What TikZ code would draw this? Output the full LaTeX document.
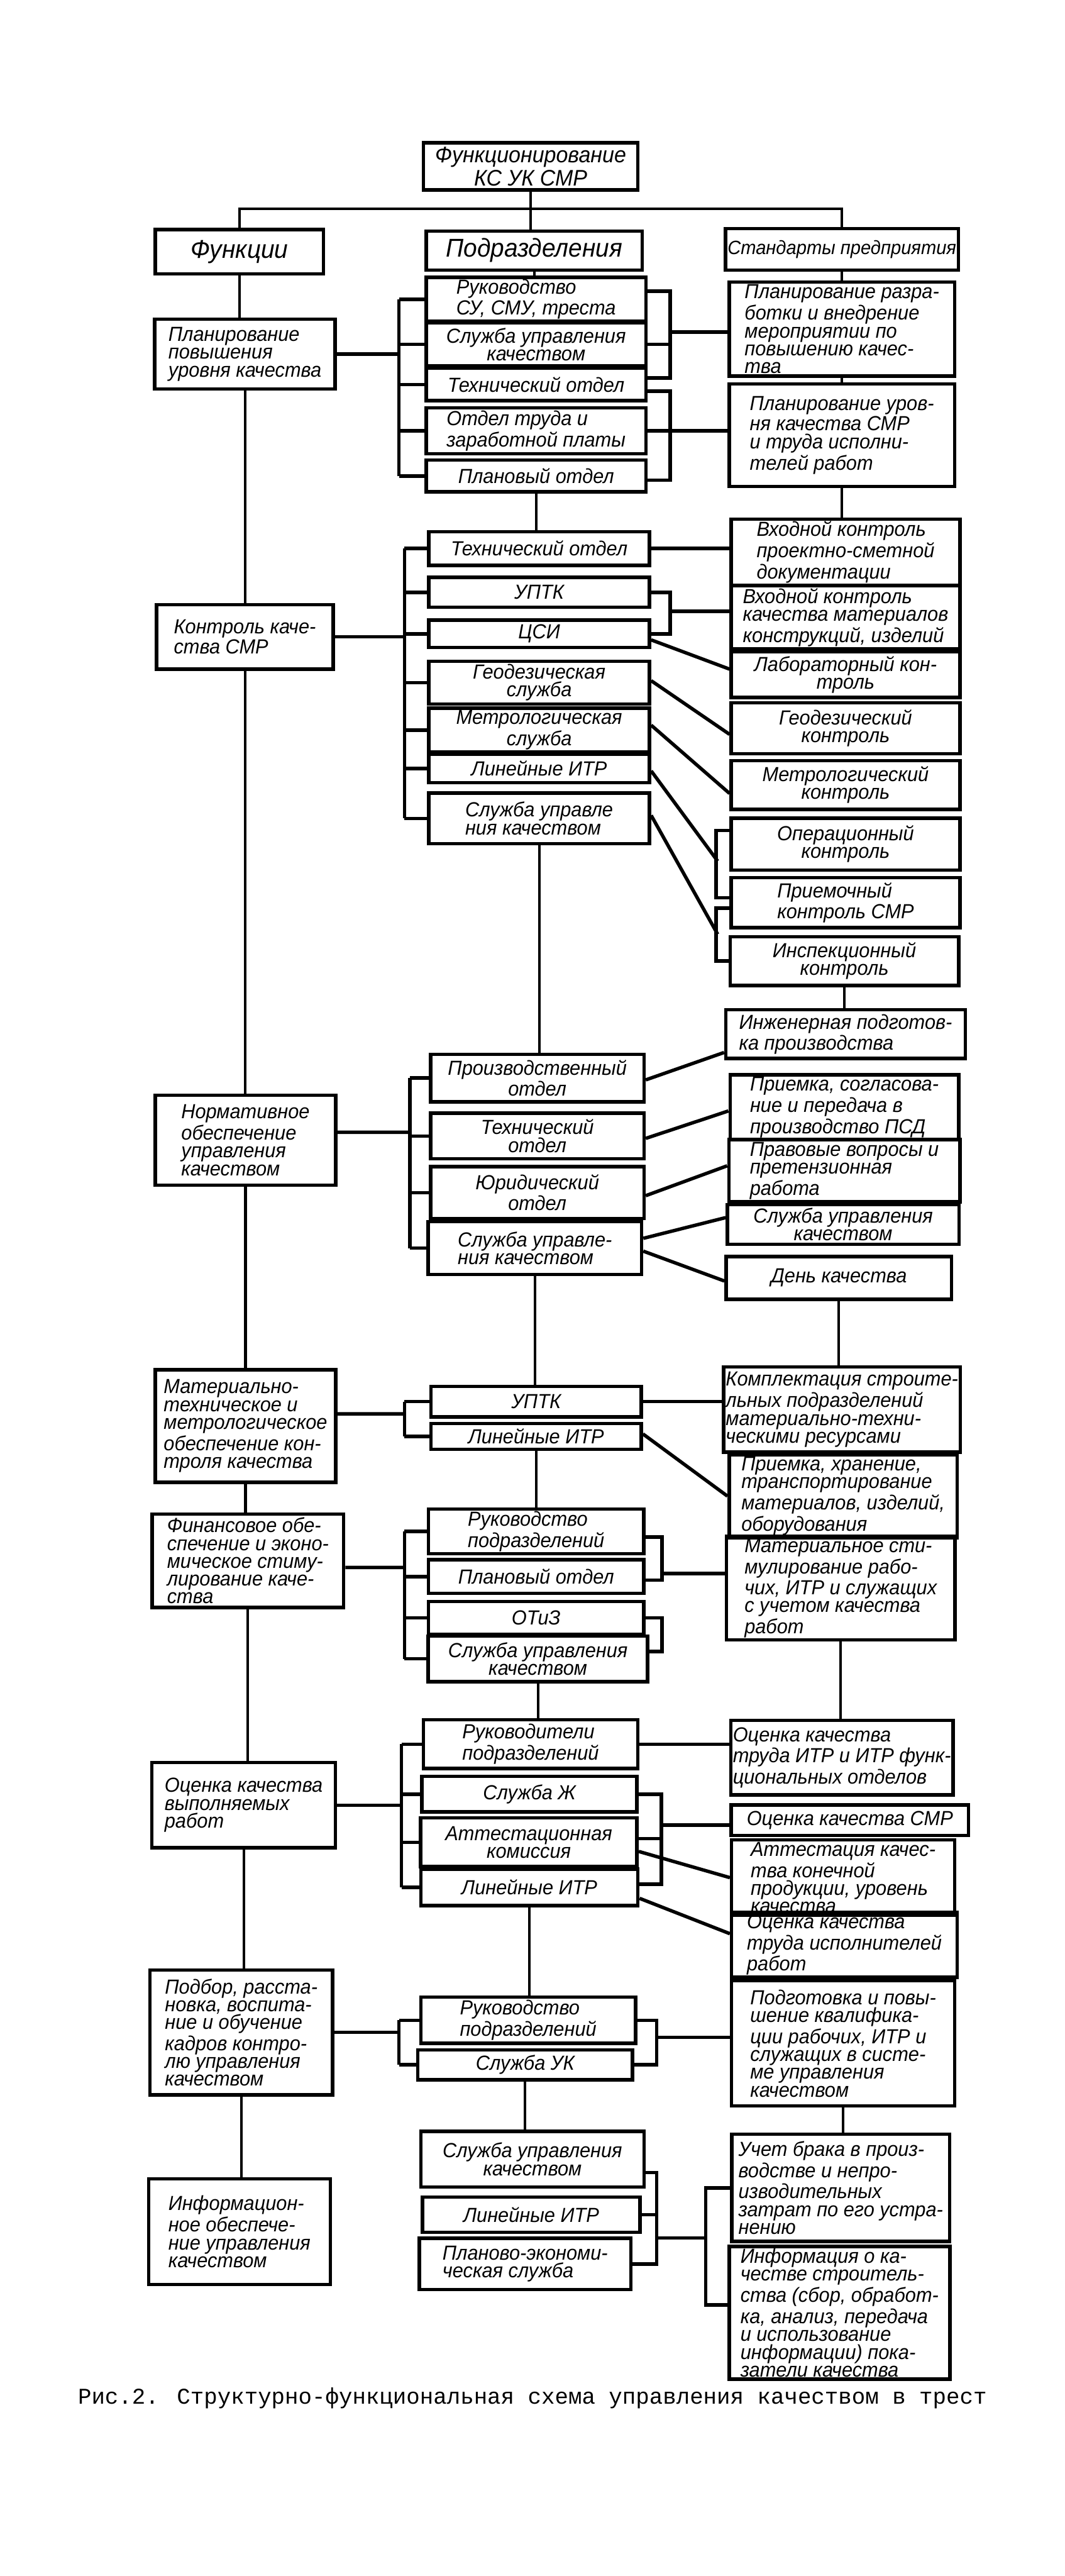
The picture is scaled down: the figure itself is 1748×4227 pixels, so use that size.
\documentclass[tikz,border=0pt]{standalone}
\usepackage{fontspec}
\setmainfont{Liberation Sans}[FakeStretch=0.95]
\newfontfamily\capfont{Liberation Mono}
\usepackage{tikz}

\tikzset{
  box/.style={draw, line width=1.6pt, inner sep=1pt, align=left,
    font=\fontsize{9.5}{8.3}\selectfont\itshape},
  cbox/.style={box, align=center},
  head/.style={box, align=center, font=\fontsize{12}{12}\selectfont\itshape},
  sz/.style 2 args={minimum width=#1cm, minimum height=#2cm},
  link/.style={line width=1.2pt},
  brk/.style={line width=1.6pt},
}

\begin{document}
\begin{tikzpicture}[x=0.01cm, y=-0.01cm]
  \fill[white] (0,0) rectangle (1748,4227);
  % Header
  \node[head, sz={3.52}{0.77}, font=\fontsize{10.5}{11}\selectfont\itshape] (top) at (871,273) {Функционирование\\КС УК СМР};
  \node[head, sz={2.76}{0.73}] (hF) at (393,413) {Функции};
  \node[head, sz={3.54}{0.64}] (hP) at (877,411) {Подразделения};
  \node[head, sz={3.70}{0.68}, font=\fontsize{9}{9}\selectfont\itshape] (hS) at (1382,409) {Стандарты предприятия};
  \coordinate (hub) at (871,343);
  \draw[link] (top.south) -- (top.south |- hP.north);
  \draw[link] (hF.north) |- (hub) -| (hS.north);

  % Planning
  \node[box, sz={2.96}{1.14}] (L1) at (402,581) {Планирование\\повышения\\уровня качества};
  \node[box, sz={3.60}{0.72}] (M1a) at (880,491) {Руководство\\СУ, СМУ, треста};
  \node[cbox, sz={3.60}{0.70}] (M1b) at (880,565) {Служба управления\\качеством};
  \node[box, sz={3.60}{0.53}] (M1c) at (880,631) {Технический отдел};
  \node[box, sz={3.60}{0.75}] (M1d) at (880,707) {Отдел труда и\\заработной платы};
  \node[cbox, sz={3.60}{0.52}] (M1e) at (880,781) {Плановый отдел};
  \node[box, sz={3.70}{1.54}] (R1a) at (1382,540) {Планирование разра-\\ботки и внедрение\\мероприятии по\\повышению качес-\\тва};
  \node[box, sz={3.70}{1.68}] (R1b) at (1382,714) {Планирование уров-\\ня качества СМР\\и труда исполни-\\телей работ};
  \coordinate (k1) at (655,580);
  \draw[brk] (M1a.west -| k1) -- (M1e.west -| k1);
  \foreach \m in {M1a,M1b,M1c,M1d,M1e}
    \draw[brk] (\m.west) -- (\m.west -| k1);
  \draw[brk] (L1.east) -- (L1.east -| k1);
  \coordinate (r1) at (1097,545);
  \draw[brk] ([yshift=0.13cm]M1a.east) -- ++(0.37cm,0) |- ([yshift=0.11cm]M1c.east);
  \draw[brk] (M1b.east) -- (M1b.east -| r1);
  \draw[brk] (r1) -- (r1 -| R1a.west);
  \draw[brk] ([yshift=-0.11cm]M1c.east) -- ++(0.37cm,0) |- ([yshift=-0.07cm]M1e.east);
  \draw[brk] (M1d.east) -- (M1d.east -| R1b.west);

  % Control
  \node[box, sz={2.90}{1.06}] (L2) at (402,1045) {Контроль каче-\\ства СМР};
  \node[box, sz={3.62}{0.55}] (M2a) at (885,900) {Технический отдел};
  \node[cbox, sz={3.62}{0.49}] (M2b) at (885,972) {УПТК};
  \node[cbox, sz={3.62}{0.45}] (M2c) at (885,1040) {ЦСИ};
  \node[cbox, sz={3.62}{0.70}] (M2d) at (885,1120) {Геодезическая\\служба};
  \node[cbox, sz={3.62}{0.67}] (M2e) at (885,1198) {Метрологическая\\служба};
  \node[box, sz={3.62}{0.47}] (M2f) at (885,1261) {Линейные ИТР};
  \node[box, sz={3.62}{0.83}] (M2g) at (885,1343) {Служба управле\\ния качеством};
  \node[box, sz={3.75}{1.03}] (R2a) at (1388,906) {Входной контроль\\проектно-сметной\\документации};
  \node[box, sz={3.75}{1.00}] (R2b) at (1388,1013) {Входной контроль\\качества материалов\\конструкций, изделий};
  \node[cbox, sz={3.75}{0.75}] (R2c) at (1388,1107) {Лабораторный кон-\\троль};
  \node[cbox, sz={3.75}{0.84}] (R2d) at (1388,1195) {Геодезический\\контроль};
  \node[cbox, sz={3.75}{0.80}] (R2e) at (1388,1288) {Метрологический\\контроль};
  \node[cbox, sz={3.75}{0.85}] (R2f) at (1388,1385) {Операционный\\контроль};
  \node[box, sz={3.75}{0.82}] (R2g) at (1388,1481) {Приемочный\\контроль СМР};
  \node[cbox, sz={3.75}{0.80}] (R2h) at (1386,1577) {Инспекционный\\контроль};
  \coordinate (k2) at (664,1042);
  \draw[brk] (M2a.west -| k2) -- (M2g.west -| k2);
  \foreach \m in {M2a,M2b,M2c,M2d,M2e,M2f,M2g}
    \draw[brk] (\m.west) -- (\m.west -| k2);
  \draw[brk] (L2.east) -- (L2.east -| k2);
  \draw[brk] (M2a.east) -- (M2a.east -| R2a.west);
  \coordinate (r3) at (1097,1003);
  \draw[brk] (M2b.east) -- ++(0.31cm,0) |- (M2c.east);
  \draw[brk] (r3) -- (r3 -| R2b.west);
  \draw[brk] ([yshift=-0.10cm]M2c.east) -- ([yshift=0.09cm]R2c.west);
  \draw[brk] ([yshift=0.03cm]M2d.east) -- ([yshift=-0.10cm]R2d.west);
  \draw[brk] ([yshift=0.08cm]M2e.east) -- ([yshift=-0.14cm]R2e.west);
  \coordinate (jA) at (1178,1413);
  \coordinate (jB) at (1178,1533);
  \draw[brk] ([yshift=0.22cm]R2f.west) -- ++(-0.22cm,0) |- ([yshift=0.08cm]R2g.west);
  \draw[brk] ([yshift=-0.09cm]R2g.west) -- ++(-0.22cm,0) |- (R2h.west);
  \draw[brk] ([yshift=-0.04cm]M2f.east) -- (jA);
  \draw[brk] ([yshift=0.05cm]M2g.east) -- (jB);

  % Standards
  \node[box, sz={2.96}{1.47}] (L3) at (403,1871) {Нормативное\\обеспечение\\управления\\качеством};
  \node[cbox, sz={3.50}{0.78}] (M3a) at (882,1769) {Производственный\\отдел};
  \node[cbox, sz={3.50}{0.75}] (M3b) at (882,1864) {Технический\\отдел};
  \node[cbox, sz={3.50}{0.85}] (M3c) at (882,1957) {Юридический\\отдел};
  \node[box, sz={3.50}{0.87}] (M3d) at (878,2048) {Служба управле-\\ния качеством};
  \node[box, sz={3.93}{0.80}] (R3a) at (1388,1697) {Инженерная подготов-\\ка производства};
  \node[box, sz={3.75}{1.01}] (R3b) at (1386,1817) {Приемка, согласова-\\ние и передача в\\производство ПСД};
  \node[box, sz={3.79}{1.02}] (R3c) at (1386,1921) {Правовые вопросы и\\претензионная\\работа};
  \node[cbox, sz={3.80}{0.65}] (R3d) at (1384,2009) {Служба управления\\качеством};
  \node[box, sz={3.70}{0.70}] (R3e) at (1377,2097) {День качества};
  \coordinate (k3) at (673,1858);
  \draw[brk] (M3a.west -| k3) -- (M3d.west -| k3);
  \foreach \m in {M3a,M3b,M3c,M3d}
    \draw[brk] (\m.west) -- (\m.west -| k3);
  \draw[brk] ([yshift=0.13cm]L3.east) -- (k3);
  \draw[brk] ([yshift=-0.03cm]M3a.east) -- ([yshift=-0.30cm]R3a.west);
  \draw[brk] ([yshift=-0.04cm]M3b.east) -- ([yshift=-0.06cm]R3b.west);
  \draw[brk] ([yshift=-0.05cm]M3c.east) -- ([yshift=0.08cm]R3c.west);
  \draw[brk] ([yshift=0.16cm]M3d.east) -- ([yshift=0.11cm]R3d.west);
  \draw[brk] ([yshift=-0.05cm]M3d.east) -- ([yshift=-0.05cm]R3e.west);

  % Supply
  \node[box, sz={2.96}{1.85}] (L4) at (403,2340) {Материально-\\техническое и\\метрологическое\\обеспечение кон-\\троля качества};
  \node[cbox, sz={3.45}{0.50}] (M4a) at (880,2300) {УПТК};
  \node[box, sz={3.45}{0.42}] (M4b) at (880,2357) {Линейные ИТР};
  \node[box, sz={3.79}{1.40}] (R4a) at (1382,2313) {Комплектация строите-\\льных подразделений\\материально-техни-\\ческими ресурсами};
  \node[box, sz={3.74}{1.34}] (R4b) at (1384,2455) {Приемка, хранение,\\транспортирование\\материалов, изделий,\\оборудования};
  \coordinate (k4) at (664,2320);
  \draw[brk] (M4a.west -| k4) -- (M4b.west -| k4);
  \foreach \m in {M4a,M4b}
    \draw[brk] (\m.west) -- (\m.west -| k4);
  \draw[brk] ([yshift=0.2cm]L4.east) -- (k4);
  \draw[brk] (M4a.east) -- (M4a.east -| R4a.west);
  \draw[brk] ([yshift=0.04cm]M4b.east) -- (R4b.west);

  % Incentives
  \node[box, sz={3.14}{1.53}] (L5) at (407,2561) {Финансовое обе-\\спечение и эконо-\\мическое стиму-\\лирование каче-\\ства};
  \node[box, sz={3.53}{0.70}] (M5a) at (880,2513) {Руководство\\подразделений};
  \node[cbox, sz={3.53}{0.55}] (M5b) at (880,2587) {Плановый отдел};
  \node[cbox, sz={3.53}{0.54}] (M5c) at (880,2655) {ОТиЗ};
  \node[cbox, sz={3.60}{0.75}] (M5d) at (883,2722) {Служба управления\\качеством};
  \node[box, sz={3.75}{1.58}] (R5a) at (1380,2606) {Материальное сти-\\мулирование рабо-\\чих, ИТР и служащих\\с учетом качества\\работ};
  \coordinate (k5) at (664,2572);
  \draw[brk] (M5a.west -| k5) -- (M5d.west -| k5);
  \foreach \m in {M5a,M5b,M5c,M5d}
    \draw[brk] (\m.west) -- (\m.west -| k5);
  \draw[brk] ([yshift=-0.11cm]L5.east) -- (k5);
  \coordinate (r5) at (1084,2582);
  \draw[brk] ([yshift=-0.09cm]M5a.east) -- ++(0.27cm,0) |- ([yshift=-0.06cm]M5b.east);
  \draw[brk] (r5) -- (r5 -| R5a.west);
  \draw[brk] (M5c.east) -- ++(0.27cm,0) |- ([yshift=0.12cm]M5d.east);

  % Assessment
  \node[box, sz={3.01}{1.40}] (L6) at (400,2962) {Оценка качества\\выполняемых\\работ};
  \node[box, sz={3.52}{0.80}] (M6a) at (871,2862) {Руководители\\подразделений};
  \node[box, sz={3.53}{0.58}] (M6b) at (869,2944) {Служба Ж};
  \node[cbox, sz={3.55}{0.80}] (M6c) at (868,3023) {Аттестационная\\комиссия};
  \node[box, sz={3.56}{0.60}] (M6d) at (869,3097) {Линейные ИТР};
  \node[box, sz={3.61}{1.22}] (R6a) at (1382,2884) {Оценка качества\\труда ИТР и ИТР функ-\\циональных отделов};
  \node[box, sz={3.89}{0.50}] (R6b) at (1395,2987) {Оценка качества СМР};
  \node[box, sz={3.66}{1.18}] (R6c) at (1384,3081) {Аттестация качес-\\тва конечной\\продукции, уровень\\качества};
  \node[box, sz={3.70}{0.93}] (R6d) at (1386,3191) {Оценка качества\\труда исполнителей\\работ};
  \coordinate (k6) at (659,2967);
  \draw[brk] (M6a.west -| k6) -- (M6d.west -| k6);
  \foreach \m in {M6a,M6b,M6c,M6d}
    \draw[brk] (\m.west) -- (\m.west -| k6);
  \draw[brk] (L6.east) -- (L6.east -| k6);
  \draw[brk] (M6a.east) -- (M6a.east -| R6a.west);
  \coordinate (r6) at (1084,2995);
  \draw[brk] (M6b.east) -- ++(0.37cm,0) |- ([yshift=0.05cm]M6d.east);
  \draw[brk] ([yshift=0.06cm]M6c.east) -- ++(0.37cm,0);
  \draw[brk] (r6) -- (r6 -| R6b.west);
  \draw[brk] ([yshift=-0.15cm]M6c.east) -- (R6c.west);
  \draw[brk] ([yshift=-0.18cm]M6d.east) -- ([yshift=0.18cm]R6d.west);

  % Training
  \node[box, sz={3.00}{2.05}] (L7) at (396,3335) {Подбор, расста-\\новка, воспита-\\ние и обучение\\кадров контро-\\лю управления\\качеством};
  \node[box, sz={3.52}{0.76}] (M7a) at (867,3315) {Руководство\\подразделений};
  \node[box, sz={3.52}{0.49}] (M7b) at (862,3388) {Служба УК};
  \node[box, sz={3.66}{2.05}] (R7a) at (1384,3353) {Подготовка и повы-\\шение квалифика-\\ции рабочих, ИТР и\\служащих в систе-\\ме управления\\качеством};
  \coordinate (k7) at (655,3335);
  \draw[brk] (M7a.west -| k7) -- (M7b.west -| k7);
  \foreach \m in {M7a,M7b}
    \draw[brk] (\m.west) -- (\m.west -| k7);
  \draw[brk] (L7.east) -- (L7.east -| k7);
  \coordinate (r7) at (1075,3343);
  \draw[brk] (M7a.east) -- ++(0.32cm,0) |- (M7b.east);
  \draw[brk] (r7) -- (r7 -| R7a.west);

  % Information
  \node[box, sz={2.98}{1.73}] (L8) at (393,3662) {Информацион-\\ное обеспече-\\ние управления\\качеством};
  \node[cbox, sz={3.66}{0.91}] (M8a) at (874,3543) {Служба управления\\качеством};
  \node[box, sz={3.57}{0.58}] (M8b) at (872,3634) {Линейные ИТР};
  \node[box, sz={3.47}{0.84}] (M8c) at (862,3715) {Планово-экономи-\\ческая служба};
  \node[box, sz={3.57}{1.76}] (R8a) at (1380,3590) {Учет брака в произ-\\водстве и непро-\\изводительных\\затрат по его устра-\\нению};
  \node[box, sz={3.62}{2.10}] (R8b) at (1378,3795) {Информация о ка-\\честве строитель-\\ства (сбор, обработ-\\ка, анализ, передача\\и использование\\информации) пока-\\затели качества};
  \coordinate (r8) at (1075,3672);
  \coordinate (r8b) at (1161,3672);
  \draw[brk] ([yshift=-0.22cm]M8a.east) -- ++(0.18cm,0) |- (M8c.east);
  \draw[brk] (M8b.east) -- ++(0.24cm,0);
  \draw[brk] (r8) -- (r8b);
  \draw[brk] (R8a.west) -- ++(-0.4cm,0) |- ([yshift=0.13cm]R8b.west);

  % Chains
  \foreach \a/\b in {hF/L1,L1/L2,L2/L3,L3/L4,L4/L5,L5/L6,L6/L7,L7/L8}
    \draw[link] (\a.south) -- (\a.south |- \b.north);
  \foreach \a/\b in {hP/M1a,M1e/M2a,M2g/M3a,M3d/M4a,M4b/M5a,M5d/M6a,M6d/M7a,M7b/M8a}
    \draw[link] (\a.south) -- (\a.south |- \b.north);
  \foreach \a/\b in {hS/R1a,R1a/R1b,R1b/R2a,R2h/R3a,R3e/R4a,R5a/R6a,R6d/R7a,R7a/R8a}
    \draw[link] (\a.south) -- (\a.south |- \b.north);

  % Caption
  \node[font=\capfont\fontsize{10.5}{12}\selectfont] (cap) at (874,3935) {Рис.2. Структурно-функциональная схема управления качеством в трест};
\end{tikzpicture}
\end{document}
